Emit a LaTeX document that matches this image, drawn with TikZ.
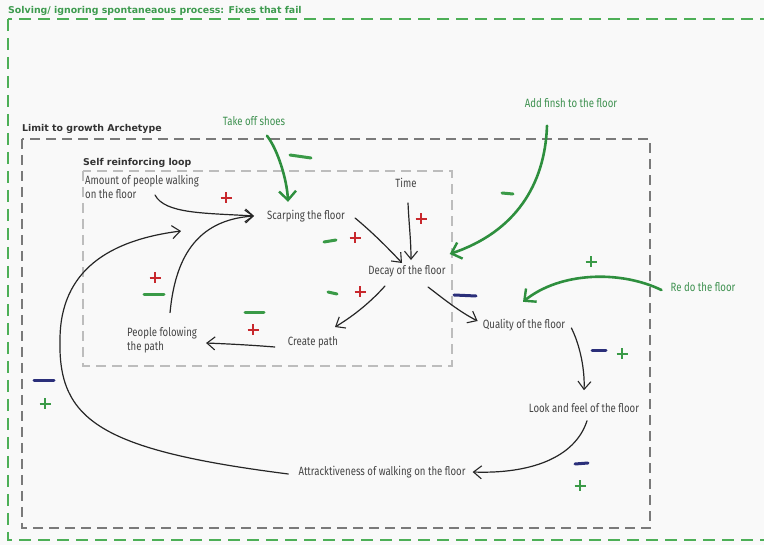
\documentclass[tikz,border=0pt]{standalone}
\usepackage{fontspec}
\usetikzlibrary{arrows.meta}
\newfontfamily\labelfont[FakeStretch=0.8]{Fira Sans}
\newfontfamily\headfont{DejaVu Sans}
\definecolor{bgcol}{HTML}{F9F9F9}
\definecolor{outergreen}{HTML}{4DAF57}
\definecolor{titlegreen}{HTML}{3E9B4F}
\definecolor{midgray}{HTML}{7A7A7A}
\definecolor{lightgray}{HTML}{BDBDBD}
\definecolor{textgray}{HTML}{454545}
\definecolor{arrowgreen}{HTML}{2E8F3E}
\definecolor{fixgreen}{HTML}{3E9150}
\definecolor{signred}{HTML}{C8282D}
\definecolor{signnavy}{HTML}{2B2F7A}
\definecolor{signgreen}{HTML}{3A9A47}
\tikzset{
  var/.style={font=\labelfont\fontsize{12}{14.5}\selectfont, text=textgray, inner sep=0pt},
  fixlabel/.style={font=\labelfont\fontsize{12}{14.5}\selectfont, text=fixgreen, inner sep=0pt},
  boxtitle/.style={font=\headfont\bfseries\fontsize{9.4}{11}\selectfont, inner sep=0pt, anchor=west},
  conn/.style={draw=black!85, line width=1.2pt, line cap=round,
    -{Straight Barb[length=8pt,width=13pt,line width=1.1pt]}},
  fixarrow/.style={draw=arrowgreen, line width=2.6pt, line cap=round,
    -{Straight Barb[length=9pt,width=17pt,line width=2.4pt]}},
  pplus/.pic={\draw[line width=2.8pt] (-5.5,0) -- (5.5,0) (0,-5.5) -- (0,5.5);},
  sgnred/.style={draw=signred, color=signred},
  sgngreen/.style={draw=signgreen, color=signgreen},
  minusmark/.style={line width=3pt, line cap=round},
}
\begin{document}
\begin{tikzpicture}[x=1pt,y=-1pt]
  \clip (0,0) rectangle (764,545);
  \fill[bgcol] (0,0) rectangle (764,545);

  % enclosing frames
  \draw[outergreen, line width=2.6pt, dash pattern=on 12pt off 7pt] (8,19) rectangle (800,540);
  \node[boxtitle, text=titlegreen] (t1) at (8,11) {Solving/ ignoring spontaneaous process: Fixes that fail};
  \draw[midgray, line width=2pt, dash pattern=on 10pt off 6pt] (22,139) rectangle (650,528);
  \node[boxtitle, text=black!80] (t2) at (22,129) {Limit to growth Archetype};
  \draw[lightgray, line width=1.8pt, dash pattern=on 10pt off 6pt] (83,171) rectangle (452,366);
  \node[boxtitle, text=black!80] (t3) at (83,163) {Self reinforcing loop};

  % variables
  \node[var, anchor=west, align=left] (amount) at (85,187) {Amount of people walking\\on the floor};
  \node[var, anchor=west] (scarp) at (267,216) {Scarping the floor};
  \node[var] (time) at (406,183) {Time};
  \node[var] (decay) at (407,271) {Decay of the floor};
  \node[var] (create) at (313,342) {Create path};
  \node[var, anchor=west, align=left] (people) at (127,340) {People folowing\\the path};
  \node[var] (quality) at (524,325) {Quality of the floor};
  \node[var] (look) at (584,408) {Look and feel of the floor};
  \node[var] (attr) at (382,472) {Attracktiveness of walking on the floor};

  % fixes
  \node[fixlabel] (shoes) at (254,121) {Take off shoes};
  \node[fixlabel] (finish) at (571,103) {Add finsh to the floor};
  \node[fixlabel] (redo) at (703,287) {Re do the floor};

  % causal links
  \coordinate (scarpin) at ([shift={(-13,0)}]scarp.west);
  \draw[conn] ([shift={(70,8)}]amount.west) .. controls (165,214) and (205,213) .. (scarpin);
  \draw[conn] ([shift={(8,-14)}]people.north) .. controls (175,260) and (195,220) .. (scarpin);
  \draw[conn] ([shift={(-10,2)}]attr.west) .. controls (100,450) and (58,420) .. (60,340)
     .. controls (60,270) and (110,240) .. (181,231);
  \draw[conn] ([shift={(10,2)}]scarp.east) .. controls (372,232) and (388,248) .. ([shift={(-5,-2)}]decay.north);
  \draw[conn] ([shift={(2,15)}]time.south) .. controls (409,225) and (411,240) .. ([shift={(4,-5)}]decay.north);
  \draw[conn] ([shift={(-22,9)}]decay.south) .. controls (368,305) and (350,318) .. ([shift={(22,-9)}]create.north);
  \draw[conn] ([shift={(21,10)}]decay.south) .. controls (445,300) and (460,312) .. ([shift={(-5,-4)}]quality.west);
  \draw[conn] ([shift={(-13,5)}]create.west) .. controls (250,345) and (230,344) .. ([shift={(9,3)}]people.east);
  \draw[conn] ([shift={(6,3)}]quality.east) .. controls (580,345) and (585,370) .. ([shift={(0,-13)}]look.north);
  \draw[conn] ([shift={(3,8)}]look.south) .. controls (575,458) and (530,474) .. ([shift={(7,0)}]attr.east);

  % fixes acting on the system
  \draw[fixarrow] ([shift={(13,10)}]shoes.south) .. controls (278,150) and (287,180) .. ([shift={(-18,-8)}]scarp.north);
  \draw[fixarrow] ([shift={(-24,18)}]finish.south) .. controls (545,185) and (515,232) .. ([shift={(4,-17)}]decay.east);
  \draw[fixarrow] ([shift={(-9,3)}]redo.west) .. controls (620,270) and (560,272) .. ([shift={(-1,-17)}]quality.north);

  % polarity marks
  \draw[sgngreen, minusmark] (290,155) -- (311,158);
  \pic[sgnred] at (226,198) {pplus};
  \draw[sgngreen, minusmark] (324,242) -- (336,240);
  \pic[sgnred] at (355,238) {pplus};
  \pic[sgnred] at (421,219) {pplus};
  \draw[sgngreen, minusmark] (502,193) -- (513,194);
  \pic[sgngreen] at (591,262) {pplus};
  \draw[signnavy, minusmark] (454,295) -- (476,296);
  \draw[sgngreen, minusmark] (328,292) -- (337,294);
  \pic[sgnred] at (360,292) {pplus};
  \pic[sgnred] at (155,278) {pplus};
  \draw[sgngreen, minusmark] (144,295) -- (164,295);
  \draw[sgngreen, minusmark] (245,313) -- (264,313);
  \pic[sgnred] at (253,330) {pplus};
  \draw[signnavy, minusmark] (592,351) -- (606,351);
  \pic[sgngreen] at (622,354) {pplus};
  \draw[signnavy, minusmark] (34,381) -- (54,381);
  \pic[sgngreen] at (45,404) {pplus};
  \draw[signnavy, minusmark] (575,464) -- (588,463);
  \pic[sgngreen] at (580,486) {pplus};
\end{tikzpicture}
\end{document}
